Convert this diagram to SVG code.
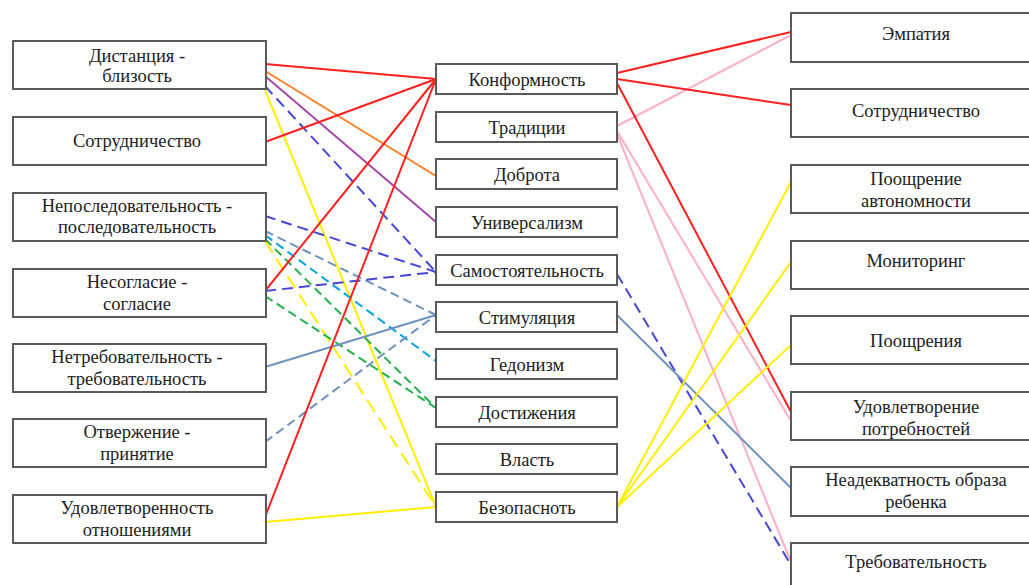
<svg xmlns="http://www.w3.org/2000/svg" width="1029" height="585" viewBox="0 0 1029 585">
<style>
.box{fill:#fff;stroke:#5a5a5a;stroke-width:2}
.t{font-family:"Liberation Serif","DejaVu Serif",serif;font-size:18.5px;fill:#222;text-anchor:middle}
.c{fill:none;stroke-width:2}
.red{stroke:#ff2020}
.org{stroke:#ff7f27}
.pur{stroke:#a349a4}
.blu{stroke:#4646d8;stroke-dasharray:11 6}
.stl{stroke:#7092be}
.stld{stroke:#7092be;stroke-dasharray:9 5}
.cyn{stroke:#00a2e8;stroke-dasharray:9 5}
.grn{stroke:#22b14c;stroke-dasharray:9 5}
.yel{stroke:#ffee00}
.yeld{stroke:#ffee00;stroke-dasharray:14 7}
.pnk{stroke:#ffaec9}
</style>
<rect width="1029" height="585" fill="#fff"/>
<g id="connectors">
<line class="c pnk" x1="617" y1="126" x2="791" y2="35"/>
<line class="c pnk" x1="617" y1="131" x2="791" y2="421"/>
<line class="c pnk" x1="617" y1="134" x2="791" y2="562"/>
<line class="c red" x1="265" y1="64" x2="436" y2="79"/>
<line class="c org" x1="265" y1="71" x2="436" y2="176"/>
<line class="c pur" x1="265" y1="76" x2="436" y2="222"/>
<line class="c blu" x1="265" y1="86" x2="436" y2="272"/>
<line class="c yel" x1="265" y1="90" x2="436" y2="507"/>
<line class="c red" x1="265" y1="142" x2="436" y2="79"/>
<line class="c blu" x1="265" y1="216" x2="436" y2="272"/>
<line class="c stld" x1="265" y1="231" x2="436" y2="315"/>
<line class="c cyn" x1="265" y1="235" x2="436" y2="361"/>
<line class="c grn" x1="265" y1="239" x2="436" y2="408"/>
<line class="c yeld" x1="265" y1="241" x2="436" y2="507"/>
<line class="c red" x1="265" y1="291" x2="436" y2="79"/>
<line class="c blu" x1="265" y1="291" x2="436" y2="272"/>
<line class="c grn" x1="265" y1="296" x2="436" y2="408"/>
<line class="c stl" x1="265" y1="367" x2="436" y2="315"/>
<line class="c stld" x1="265" y1="442" x2="436" y2="315"/>
<line class="c red" x1="265" y1="517" x2="436" y2="79"/>
<line class="c yel" x1="265" y1="522" x2="436" y2="507"/>
<line class="c red" x1="617" y1="73" x2="791" y2="32"/>
<line class="c red" x1="617" y1="79" x2="791" y2="105"/>
<line class="c red" x1="617" y1="83" x2="791" y2="412"/>
<line class="c blu" x1="617" y1="274" x2="791" y2="565"/>
<line class="c stl" x1="617" y1="315" x2="791" y2="488"/>
<line class="c yel" x1="617" y1="507" x2="791" y2="182"/>
<line class="c yel" x1="617" y1="507" x2="791" y2="262"/>
<line class="c yel" x1="617" y1="507" x2="791" y2="345"/>
</g>
<g id="l1"><rect class="box" x="13" y="41" width="253" height="48"/><text class="t" x="137" y="62">Дистанция -</text><text class="t" x="137" y="82">близость</text></g>
<g id="l2"><rect class="box" x="13" y="117" width="253" height="48"/><text class="t" x="137" y="147">Сотрудничество</text></g>
<g id="l3"><rect class="box" x="13" y="193" width="253" height="48"/><text class="t" x="137" y="212">Непоследовательность -</text><text class="t" x="137" y="233">последовательность</text></g>
<g id="l4"><rect class="box" x="13" y="269" width="253" height="48"/><text class="t" x="137" y="288">Несогласие -</text><text class="t" x="137" y="310">согласие</text></g>
<g id="l5"><rect class="box" x="13" y="344" width="253" height="48"/><text class="t" x="137" y="363">Нетребовательность -</text><text class="t" x="137" y="385">требовательность</text></g>
<g id="l6"><rect class="box" x="13" y="419" width="253" height="48"/><text class="t" x="137" y="438">Отвержение -</text><text class="t" x="137" y="460">принятие</text></g>
<g id="l7"><rect class="box" x="13" y="495" width="253" height="48"/><text class="t" x="137" y="514">Удовлетворенность</text><text class="t" x="137" y="536">отношениями</text></g>
<g id="m1"><rect class="box" x="436" y="64" width="181" height="30"/><text class="t" x="527" y="86">Конформность</text></g>
<g id="m2"><rect class="box" x="436" y="112" width="181" height="30"/><text class="t" x="527" y="134">Традиции</text></g>
<g id="m3"><rect class="box" x="436" y="159" width="181" height="30"/><text class="t" x="527" y="181">Доброта</text></g>
<g id="m4"><rect class="box" x="436" y="207" width="181" height="30"/><text class="t" x="527" y="229">Универсализм</text></g>
<g id="m5"><rect class="box" x="436" y="255" width="181" height="30"/><text class="t" x="527" y="277">Самостоятельность</text></g>
<g id="m6"><rect class="box" x="436" y="302" width="181" height="30"/><text class="t" x="527" y="324">Стимуляция</text></g>
<g id="m7"><rect class="box" x="436" y="349" width="181" height="30"/><text class="t" x="527" y="371">Гедонизм</text></g>
<g id="m8"><rect class="box" x="436" y="397" width="181" height="30"/><text class="t" x="527" y="419">Достижения</text></g>
<g id="m9"><rect class="box" x="436" y="444" width="181" height="30"/><text class="t" x="527" y="466">Власть</text></g>
<g id="m10"><rect class="box" x="436" y="492" width="181" height="30"/><text class="t" x="527" y="514">Безопасноть</text></g>
<g id="r1"><rect class="box" x="791" y="13" width="252" height="49"/><text class="t" x="916" y="40">Эмпатия</text></g>
<g id="r2"><rect class="box" x="791" y="89" width="252" height="48"/><text class="t" x="916" y="117">Сотрудничество</text></g>
<g id="r3"><rect class="box" x="791" y="165" width="252" height="48"/><text class="t" x="916" y="185">Поощрение</text><text class="t" x="916" y="207">автономности</text></g>
<g id="r4"><rect class="box" x="791" y="241" width="252" height="48"/><text class="t" x="916" y="267">Мониторинг</text></g>
<g id="r5"><rect class="box" x="791" y="316" width="252" height="48"/><text class="t" x="916" y="347">Поощрения</text></g>
<g id="r6"><rect class="box" x="791" y="392" width="252" height="48"/><text class="t" x="916" y="413">Удовлетворение</text><text class="t" x="916" y="435">потребностей</text></g>
<g id="r7"><rect class="box" x="791" y="467" width="252" height="49"/><text class="t" x="916" y="486">Неадекватность образа</text><text class="t" x="916" y="508">ребенка</text></g>
<g id="r8"><rect class="box" x="791" y="543" width="252" height="60"/><text class="t" x="916" y="568">Требовательность</text></g>
</svg>
